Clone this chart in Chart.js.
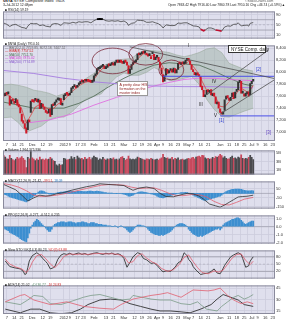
<!DOCTYPE html>
<html><head><meta charset="utf-8">
<script src="https://cdn.jsdelivr.net/npm/chart.js@4.4.0/dist/chart.umd.min.js"></script>
<style>
html,body{margin:0;padding:0;background:#fff;}
#wrap{position:relative;width:287px;height:320px;overflow:hidden;font-family:"Liberation Sans",Arial,sans-serif;}
canvas{position:absolute;left:0;}
.t{position:absolute;white-space:nowrap;line-height:1;color:#222;}
</style></head><body><div id="wrap">
<canvas id="cRsi" width="287" height="34" style="top:8px"></canvas>
<canvas id="cMain" width="287" height="105" style="top:42px"></canvas>
<canvas id="cVol" width="287" height="31" style="top:147px"></canvas>
<canvas id="cMacd" width="287" height="34" style="top:178px"></canvas>
<canvas id="cHist" width="287" height="35" style="top:212px"></canvas>
<canvas id="cSto" width="287" height="35" style="top:247px"></canvas>
<canvas id="cAdx" width="287" height="38" style="top:282px"></canvas>

<div class="t" style="left:3px;top:0px;font-size:3.8px;"><b>$NYA</b> NYSE Composite Index &nbsp;INDX</div>
<div class="t" style="left:3px;top:4px;font-size:3.4px;">3-Jul-2012 12:48pm</div>
<div class="t" style="left:245px;top:0px;font-size:3.4px;color:#555">©StockCharts.com</div>
<div class="t" style="left:168px;top:4px;font-size:3.3px;">Open 7863.42 High 7916.40 Low 7860.78 Last 7910.16 Chg +46.74 (+0.59%)▲</div>

<div class="t" style="left:5px;top:9px;font-size:3.3px;">■ RSI(14) 59.19</div>

<div class="t" style="left:5px;top:43px;font-size:3.3px;">■ $NYA (Daily) 7910.16</div>
<div class="t" style="left:5px;top:46.5px;font-size:3.3px;color:#666">— BB(20,2.0) 7759.85, 8072.18, 7447.52</div>
<div class="t" style="left:5px;top:50px;font-size:3.3px;color:#d02020">— EMA(8) 7757.52</div>
<div class="t" style="left:5px;top:53.5px;font-size:3.3px;color:#4a6a50">— MA(50) 7752.70</div>
<div class="t" style="left:5px;top:57px;font-size:3.3px;color:#d040d0">— MA(100) 7875.02</div>
<div class="t" style="left:5px;top:60.5px;font-size:3.3px;color:#8a5ad0">— MA(200) 7774.89</div>

<div class="t" style="left:228px;top:45px;width:38px;height:8px;font-size:4.6px;border:0.8px solid #333;background:#fff;box-sizing:border-box;padding:1.5px 0 0 2px;">NYSE Comp. daily</div>
<div class="t" style="left:117px;top:81px;width:31px;height:15px;font-size:3.6px;border:0.6px solid #999;background:#fff;box-sizing:border-box;padding:1.2px 0 0 1.5px;color:#8b1a1a;line-height:1.15;">A pretty clear H/S<br>formation on the<br>master index</div>
<div class="t" style="left:161px;top:71px;font-size:4.5px;">I</div>
<div class="t" style="left:188px;top:44px;font-size:4.5px;">I</div>
<div class="t" style="left:199px;top:103px;font-size:4.5px;">III</div>
<div class="t" style="left:212px;top:80px;font-size:4.5px;">IV</div>
<div class="t" style="left:214px;top:114px;font-size:4.5px;">V</div>
<div class="t" style="left:219px;top:119px;font-size:4.5px;color:#3040d0">[1]</div>
<div class="t" style="left:256px;top:68px;font-size:4.5px;color:#3040d0">[2]</div>
<div class="t" style="left:266px;top:131px;font-size:4.5px;color:#6040c0">[3]</div>

<div class="t" style="left:5px;top:149px;font-size:3.3px;">■ Volume 1,964,375,936</div>
<div class="t" style="left:5px;top:180px;font-size:3.3px;">■ MACD(12,26,9) <span style="color:#222">-21.42</span>, <span style="color:#d03030">-39.51</span>, <span style="color:#2a7ac0">18.09</span></div>
<div class="t" style="left:5px;top:214px;font-size:3.3px;">■ PPO(12,26,9) -0.277, -0.512, 0.235</div>
<div class="t" style="left:5px;top:249px;font-size:3.3px;">■ Slow STO %K(14,3) 80.23, <span style="color:#d03030">%D(3) 63.88</span></div>
<div class="t" style="left:5px;top:284px;font-size:3.3px;">■ ADX(14) 21.02 &nbsp;<span style="color:#5a8a6a">+DI 36.77</span> &nbsp;<span style="color:#d03030">-DI 24.83</span></div>
</div>
<script>
// ---------------- DATA ----------------
// x positions are trading-day indexes: 0 = 3-Nov-2011 ... 166 = 3-Jul-2012
const xTicks = [2,7,12,19,26,31,40,44,49,53,60,68,73,80,87,92,97,102,106,111,116,122,126,131,136,144,150,155,160,165,169,174,179];
const xTickLabels = ["7","14","21","Dec","12","19","2012","9","17","23","Feb","13","21","Mar","12","19","26","Apr","9","16","23","May","7","14","21","Jun","11","18","25","Jul","9","16","23"];

const closes = [7600,7650,7630,7660,7450,7540,7520,7480,7560,7450,
7420,7320,7180,7150,7060,6980,7200,7170,7520,7510,
7500,7560,7510,7550,7390,7480,7420,7380,7330,7310,
7380,7260,7460,7440,7500,7540,7540,7570,7460,7470,
7620,7640,7630,7620,7650,7740,7750,7770,7740,7780,
7810,7850,7840,7860,7850,7880,7850,7840,7830,7830,
7940,7960,8060,8060,8080,8100,8110,8060,8070,8130,
8110,8130,8160,8120,8170,8180,8170,8190,8170,8150,
8190,8170,8120,7980,8050,8130,8160,8170,8210,8310,
8290,8310,8330,8320,8330,8290,8270,8280,8230,8310,
8210,8250,8250,8180,8080,7970,7840,7940,8060,7980,
8030,8040,8000,8070,7990,8040,8150,8140,8160,8140,
8150,8200,8220,8200,8130,8050,8010,7960,7990,7950,
7930,7760,7710,7590,7620,7700,7670,7700,7620,7640,
7600,7480,7500,7400,7330,7300,7340,7540,7600,7570,
7530,7580,7650,7560,7670,7700,7830,7840,7650,7660,
7600,7650,7660,7600,7810,7850,7880];
const opens = [7640,7610,7660,7640,7600,7480,7550,7510,7490,7540,
7460,7410,7300,7190,7140,7070,7040,7190,7330,7520,
7540,7530,7550,7500,7530,7400,7470,7410,7370,7340,
7320,7390,7290,7460,7450,7500,7550,7530,7560,7450,
7540,7610,7640,7610,7620,7660,7730,7760,7770,7750,
7790,7810,7850,7830,7870,7850,7880,7860,7850,7840,
7850,7940,7970,8050,8060,8080,8100,8110,8060,8080,
8130,8110,8130,8160,8120,8170,8180,8170,8190,8170,
8150,8190,8170,8110,7980,8050,8130,8160,8170,8210,
8300,8290,8310,8330,8320,8290,8270,8280,8240,8310,
8300,8210,8260,8250,8170,8070,7960,7850,7950,8050,
7990,8030,8050,8000,8060,7990,8050,8160,8130,8170,
8140,8150,8200,8230,8190,8120,8040,8000,7950,7990,
7960,7930,7770,7700,7590,7630,7710,7660,7710,7610,
7650,7590,7470,7500,7390,7320,7300,7360,7550,7610,
7560,7530,7590,7660,7570,7680,7710,7830,7850,7650,
7640,7600,7640,7670,7620,7810,7850];
const volume = [4.3,4.0,3.6,3.5,4.4,3.7,3.4,3.2,3.5,3.9,
3.6,3.8,4.1,3.7,3.3,1.6,3.9,3.6,5.4,3.8,
3.5,3.2,3.6,3.3,4.0,3.4,3.5,3.3,3.6,3.4,
3.5,3.9,3.6,3.2,3.0,2.2,2.0,2.4,2.1,2.3,
3.7,3.6,3.3,3.4,3.5,4.1,3.6,3.9,3.4,4.2,
3.8,3.6,3.7,3.4,3.9,3.5,3.6,3.9,3.4,3.8,
4.2,3.9,3.8,3.3,3.6,3.4,3.9,3.5,3.3,3.6,
3.4,3.7,3.5,3.8,3.4,3.5,3.3,3.6,3.9,4.1,
3.7,3.3,3.5,4.2,3.6,3.4,3.5,3.4,3.6,4.0,
3.8,3.7,3.5,3.4,3.3,3.6,3.5,3.4,3.7,3.5,
3.3,3.4,3.5,3.3,3.6,3.8,4.6,3.9,3.7,3.8,
3.5,3.6,3.9,3.4,3.7,3.5,3.8,3.3,3.4,3.5,
3.3,3.4,3.6,3.7,3.5,3.8,3.9,3.6,4.0,4.1,
4.2,4.0,4.4,4.3,3.8,3.6,3.7,3.5,3.6,3.9,
3.7,4.1,3.9,4.2,4.6,4.3,3.8,4.1,3.7,3.5,
3.6,3.9,4.2,3.7,3.8,3.6,4.0,3.8,4.5,3.7,
3.5,3.7,3.6,3.9,4.4,3.9,3.4];
const macdHist = [-10,-15,-20,-30,-40,-45,-50,-55,-60,-65,
-70,-75,-80,-85,-90,-95,-85,-80,-55,-45,
-30,-15,0,15,25,30,25,20,10,5,
-5,-10,-8,-5,0,5,10,12,15,15,
18,20,22,25,25,25,22,20,20,22,
22,22,22,20,20,20,22,25,25,22,
20,22,25,22,20,18,15,10,8,5,
5,4,3,2,0,-2,0,2,0,-5,
-10,-15,-20,-30,-30,-25,-20,-10,0,10,
15,18,18,15,12,10,5,0,-5,-10,
-15,-20,-30,-40,-45,-48,-50,-45,-40,-35,
-30,-25,-20,-15,-10,-5,0,5,8,10,
10,12,10,5,0,-10,-20,-30,-35,-45,
-50,-60,-70,-75,-80,-75,-70,-65,-60,-55,
-50,-45,-40,-35,-30,-20,-5,10,20,30,
35,40,45,45,48,50,50,48,45,40,
35,33,30,28,30,32,30];
const ppoHist = [-2,-3,-4,-5,-7,-8,-9,-10,-11,-12,
-13,-15,-16,-17,-18,-19,-14,-8,-2,2,
5,7,9,8,6,4,2,0,-2,-4,
-6,-6,-3,1,3,4,5,5,6,6,
6,5,5,6,6,6,5,5,4,5,
5,5,6,6,5,5,4,4,5,5,
5,4,4,3,3,3,2,2,2,1,
1,1,0,0,1,0,-1,0,1,0,
-1,-2,-4,-6,-7,-6,-4,-2,0,2,
2,2,1,1,0,-1,-3,-5,-7,-8,
-9,-10,-10,-11,-11,-10,-11,-10,-9,-8,
-7,-6,-4,-2,0,2,3,4,4,4,
3,2,0,-3,-5,-7,-9,-10,-11,-12,
-12,-11,-12,-11,-10,-9,-8,-7,-6,-5,
-4,-3,-3,-2,-4,-2,2,4,5,6,
7,8,9,9,10,11,11,10,8,6,
4,3,4,5,6,7,7];

// sparse line series: [dayIndex, value]
const rsi = [[0,57],[2,52],[4,44],[6,50],[8,52],[10,46],[12,40],[14,38],[15,35],[16,45],[18,56],[20,54],[22,55],[24,47],[26,50],[28,45],[31,42],[32,52],[34,55],[36,54],[38,48],[40,58],[42,57],[44,56],[46,60],[48,57],[50,62],[52,60],[54,62],[56,62],[58,58],[60,66],[62,72],[64,73],[66,72],[68,66],[70,64],[72,66],[74,64],[76,66],[78,62],[80,65],[82,58],[83,48],[85,56],[87,58],[89,68],[91,67],[93,66],[95,60],[97,60],[99,62],[101,58],[103,54],[105,46],[106,38],[108,50],[110,48],[112,47],[114,48],[116,57],[118,56],[120,58],[122,58],[124,52],[126,46],[128,45],[130,42],[131,33],[133,27],[134,30],[136,38],[138,38],[140,34],[141,30],[143,28],[145,26],[147,42],[149,46],[151,45],[153,52],[155,53],[156,58],[158,46],[160,48],[162,49],[163,45],[164,56],[166,59]];
const ema8 = [[0,7620],[3,7620],[6,7560],[9,7520],[12,7380],[15,7150],[18,7280],[21,7420],[24,7460],[27,7430],[30,7380],[33,7390],[36,7470],[39,7500],[42,7590],[45,7670],[48,7730],[51,7790],[54,7830],[57,7850],[60,7880],[63,7990],[66,8070],[69,8090],[72,8130],[75,8160],[78,8170],[81,8170],[84,8090],[87,8140],[90,8250],[93,8310],[96,8290],[99,8280],[102,8250],[105,8130],[108,7990],[111,8010],[114,8030],[117,8080],[120,8130],[123,8180],[126,8100],[129,8000],[132,7850],[135,7700],[138,7670],[141,7580],[144,7430],[147,7420],[150,7510],[153,7580],[156,7690],[159,7720],[162,7670],[164,7700],[166,7780]];
const ma50 = [[0,7500],[20,7400],[40,7400],[50,7480],[60,7600],[70,7760],[80,7900],[90,8020],[100,8120],[110,8160],[120,8140],[130,8120],[140,8020],[150,7900],[160,7800],[166,7770]];
const ma100 = [[15,7150],[30,7200],[45,7300],[60,7450],[75,7580],[90,7700],[100,7770],[110,7830],[120,7880],[130,7900],[140,7900],[150,7880],[166,7860]];
const ma200 = [[0,8030],[20,7980],[40,7900],[60,7840],[80,7800],[100,7770],[120,7760],[140,7760],[166,7740]];
const bbUpper = [[0,7790],[5,7800],[10,7780],[15,7750],[20,7700],[25,7680],[30,7650],[35,7600],[40,7640],[45,7700],[50,7800],[55,7900],[60,7980],[65,8100],[70,8150],[75,8200],[80,8220],[85,8230],[90,8330],[95,8370],[100,8360],[105,8350],[110,8330],[115,8290],[120,8260],[125,8290],[130,8330],[135,8390],[140,8410],[145,8330],[150,8150],[155,8100],[160,8050],[166,8020]];
const bbLower = [[0,7240],[5,7250],[10,7150],[15,7000],[20,7050],[25,7100],[30,7200],[35,7250],[40,7250],[45,7330],[50,7450],[55,7560],[60,7600],[65,7640],[70,7800],[75,7920],[80,7990],[85,7950],[90,7950],[95,8000],[100,8080],[105,8020],[110,7860],[115,7870],[120,7900],[125,7930],[130,7800],[135,7550],[140,7380],[145,7260],[150,7250],[155,7300],[160,7350],[166,7400]];
const macdLine = [[0,100],[4,70],[8,40],[12,-20],[16,-85],[20,-50],[24,-20],[28,-30],[31,-25],[35,-5],[40,10],[45,35],[50,55],[55,75],[60,90],[64,108],[70,100],[75,95],[80,88],[83,60],[86,35],[90,60],[95,72],[100,55],[104,0],[108,-35],[113,-38],[118,-15],[122,0],[126,-5],[130,-30],[133,-65],[137,-120],[141,-140],[144,-155],[147,-130],[150,-100],[153,-70],[156,-40],[159,-35],[162,-32],[166,-20]];
const macdSignal = [[0,110],[5,95],[10,70],[15,30],[20,-20],[25,-35],[30,-30],[35,-20],[40,-5],[45,15],[50,35],[55,55],[60,75],[65,92],[70,100],[75,98],[80,92],[85,70],[90,55],[95,60],[100,62],[105,35],[110,0],[115,-25],[120,-25],[125,-12],[130,-15],[135,-40],[140,-90],[145,-125],[150,-130],[155,-100],[160,-65],[166,-45]];
const stoK = [[1,63],[2,55],[4,40],[7,35],[11,30],[13,20],[14,7],[15,10],[16,35],[17,63],[19,85],[22,97],[24,88],[26,73],[28,60],[29,53],[31,30],[33,35],[34,40],[36,70],[38,87],[40,93],[42,90],[44,95],[46,88],[48,93],[50,96],[52,90],[54,94],[56,88],[58,92],[60,95],[62,97],[64,93],[66,90],[68,95],[70,92],[72,96],[74,89],[76,93],[78,88],[80,73],[82,37],[84,57],[86,80],[89,97],[91,93],[93,73],[95,68],[98,53],[100,55],[102,45],[104,30],[106,18],[108,22],[111,20],[114,37],[116,55],[118,63],[120,97],[122,85],[123,70],[125,55],[126,40],[128,25],[131,7],[133,10],[136,13],[138,20],[140,30],[142,13],[144,10],[145,20],[147,45],[149,63],[151,80],[153,88],[156,97],[158,90],[159,73],[161,37],[163,43],[164,63],[166,80]];
const stoD = [[1,70],[4,50],[8,38],[12,30],[15,15],[17,30],[19,58],[22,85],[25,90],[28,72],[31,50],[34,35],[37,55],[40,82],[44,92],[48,90],[52,92],[56,90],[60,93],[64,94],[68,92],[72,93],[76,90],[80,82],[83,55],[86,60],[89,85],[92,93],[95,75],[99,58],[102,50],[105,32],[109,20],[113,27],[117,50],[120,78],[123,88],[126,60],[129,35],[132,15],[136,10],[140,22],[143,17],[146,25],[149,50],[152,75],[155,90],[158,92],[161,65],[164,48],[166,62]];
const adx = [[1,17.4],[11,12.6],[16,16],[18,17.4],[24,17.4],[31,12.6],[38,11.4],[45,12.6],[51,17.4],[56,23.4],[64,29.4],[71,30.6],[78,29.4],[84,24.6],[91,21],[98,17.4],[104,15],[111,15],[118,13.8],[124,12.6],[131,17.4],[138,23.4],[142,30.6],[146,36.6],[151,33],[156,29.4],[160,23.4],[166,21]];
const plusDI = [[1,27],[11,23.4],[16,29.4],[20,35.4],[26,34],[31,24.6],[38,23.4],[44,27],[53,33],[58,35.4],[64,36.6],[71,33],[78,29.4],[84,30.6],[86,35.4],[92,33],[98,30.6],[104,29.4],[111,29.4],[118,24.6],[124,23.4],[129,27],[131,23.4],[135,17.4],[142,15],[145,21],[149,27],[153,33],[156,35.4],[160,30.6],[163,33],[166,36.6]];
const minusDI = [[1,27],[11,35.4],[14,36.6],[20,29.4],[31,23.4],[42,27],[53,21],[64,18.6],[73,17.4],[78,23.4],[86,30.6],[98,35.4],[104,37],[109,39],[118,33],[126,42.6],[136,41.4],[140,42.6],[144,45],[149,35.4],[153,29.4],[158,24.6],[162,27],[166,24.6]];

// annotations in data coordinates (day index, price)
const ellipses = [{i:72.5,p:8190,di:13.7,dp:215},{i:94.5,p:8300,di:11.3,dp:180},{i:111.5,p:8040,di:8.3,dp:165}];
const trendLines = [{a:[84,8426],b:[180.5,7893],c:'#505050'},{a:[144,7300],b:[180.5,7880],c:'#505050'},{a:[135.5,7630],b:[176,8370],c:'#505050'}];
const levelLines = [{a:[106,7933],b:[180.5,7933]},{a:[144,7270],b:[180.5,7270]}];

// ---------------- RENDER ----------------
const BG = '#dfdfed', GRID = '#cbcbdc', XMIN=-0.5, XMAX=180.5;
const P = a => a.map(d=>({x:d[0],y:d[1]}));
const tickMap = {}; xTicks.forEach((v,k)=>tickMap[v]=xTickLabels[k]);
const dirUp = closes.map((c,i)=> i===0 ? c>=opens[0] : c>=closes[i-1]);

const panelPlugin = {
  id:'panel',
  beforeDraw(c){const {ctx,chartArea:a}=c;ctx.save();ctx.fillStyle=BG;ctx.fillRect(a.left,a.top,a.right-a.left,a.bottom-a.top);ctx.restore();},
  beforeDatasetsDraw(c){
    const L=(c.options.plugins.levels||{}).lines||[];const {ctx,chartArea:a}=c;
    L.forEach(l=>{const y=c.scales.y.getPixelForValue(l.v);ctx.save();ctx.strokeStyle=l.c;ctx.lineWidth=l.w||0.8;ctx.setLineDash(l.d||[]);ctx.beginPath();ctx.moveTo(a.left,y);ctx.lineTo(a.right,y);ctx.stroke();ctx.restore();});
  },
  afterDatasetsDraw(c){
    const E=(c.options.plugins.levels||{}).ellipses||[];const {ctx}=c;
    E.forEach(e=>{const x=c.scales.x.getPixelForValue(e.i),y=c.scales.y.getPixelForValue(e.p);
      const rx=c.scales.x.getPixelForValue(e.i+e.di)-x, ry=y-c.scales.y.getPixelForValue(e.p+e.dp);
      ctx.save();ctx.strokeStyle='#7a2838';ctx.lineWidth=0.8;ctx.beginPath();ctx.ellipse(x,y,rx,ry,0,0,Math.PI*2);ctx.stroke();ctx.restore();});
  },
  afterDraw(c){const {ctx,chartArea:a}=c;ctx.save();ctx.strokeStyle='#8a8a9c';ctx.lineWidth=1;ctx.strokeRect(a.left+0.5,a.top+0.5,a.right-a.left-1,a.bottom-a.top-1);ctx.restore();}
};

function make(id, datasets, y, opt){
  opt=opt||{};
  const showX = !!opt.xLabels;
  return new Chart(document.getElementById(id), {
    data:{datasets},
    plugins:[panelPlugin],
    options:{
      responsive:false, animation:false, devicePixelRatio:1, events:[],
      layout:{padding:{left:3,right:0,top:0,bottom:0}, autoPadding:false},
      plugins:{legend:{display:false}, tooltip:{enabled:false}, levels:{lines:opt.lines||[], ellipses:opt.ellipses||[]}},
      scales:{
        x:{type:'linear', min:XMIN, max:XMAX, offset:false,
          afterBuildTicks:s=>{s.ticks=xTicks.map(v=>({value:v}));},
          afterFit:s=>{s.height= showX?6:0;},
          border:{display:false},
          grid:{color:GRID, lineWidth:0.8, drawTicks:false},
          ticks:{display:showX, autoSkip:false, maxRotation:0, padding:1, font:{size:4, family:'Liberation Sans'}, color:'#333', callback:v=>tickMap[v]||''}},
        y:Object.assign({type:'linear', position:'right',
          afterFit:s=>{s.width=12;},
          border:{display:false},
          grid:{color:GRID, lineWidth:0.8, drawTicks:false},
          ticks:{padding:1, font:{size:4, family:'Liberation Sans'}, color:'#333'}}, y)
      }
    }
  });
}
const line = (data,color,w,extra)=>Object.assign({type:'line',data:P(data),borderColor:color,borderWidth:w,pointRadius:0,tension:0,fill:false},extra||{});

// RSI
make('cRsi',[ line(rsi,'#444',0.8,{segment:{borderColor:ctx=>{const v=(ctx.p0.parsed.y+ctx.p1.parsed.y)/2;return v>=70?'#000':(v<=30?'#c01030':'#444');}, borderWidth:ctx=>{const v=(ctx.p0.parsed.y+ctx.p1.parsed.y)/2;return (v>=70||v<=30)?1.6:0.8;}}}) ],
  {min:-3,max:102,afterBuildTicks:s=>{s.ticks=[10,30,50,70,90].map(v=>({value:v}));}},
  {lines:[{v:70,c:'#9a9aa8',w:0.8},{v:30,c:'#9a9aa8',w:0.8},{v:50,c:'#aaaab8',w:0.6,d:[2,2]}]});

// MAIN
const mainSets = [
  line(bbUpper,'#9aaa9c',0.6,{fill:'+1',backgroundColor:'rgba(150,172,158,0.45)',order:10}),
  line(bbLower,'#9aaa9c',0.6,{order:10}),
  line(ma200,'#a57ce0',0.9,{order:6}),
  line(ma100,'#e070e0',0.9,{order:6}),
  line(ma50,'#58705e',0.9,{order:6}),
  line(ema8,'#e03030',0.7,{order:5}),
  {type:'bar', data:closes.map((c,i)=>({x:i,y:[opens[i],c]})), backgroundColor:closes.map((c,i)=>dirUp[i]?'#333333':'#d01a2a'), barThickness:1.4, minBarLength:2, grouped:false, order:2}
];
trendLines.forEach(t=>mainSets.push(line([t.a,t.b],t.c,0.8,{order:1})));
levelLines.forEach(t=>mainSets.push(line([t.a,t.b],'#4a50e8',1,{order:1})));
make('cMain', mainSets,
  {min:6850,max:8450,afterBuildTicks:s=>{s.ticks=[7000,7200,7400,7600,7800,8000,8200,8400].map(v=>({value:v}));}},
  {xLabels:true, ellipses});

// VOLUME
make('cVol',[{type:'bar',data:volume.map((v,i)=>({x:i,y:v})),backgroundColor:volume.map((v,i)=>dirUp[i]?'#4a4a4e':'#c8485c'),barThickness:1.1,grouped:false}],
  {min:0,max:5.5,afterBuildTicks:s=>{s.ticks=[1,2,3,4,5].map(v=>({value:v}));},ticks:{padding:1,font:{size:4},color:'#333',callback:v=>v+'B'}});

// MACD
make('cMacd',[
  {type:'bar',data:macdHist.map((v,i)=>({x:i,y:v})),backgroundColor:'#3d8fd0',barThickness:1.1,grouped:false,order:3},
  line(macdSignal,'#e06070',0.8,{order:2}),
  line(macdLine,'#333',0.8,{order:1})],
  {min:-171,max:135,afterBuildTicks:s=>{s.ticks=[-150,-100,-50,0,50,100].map(v=>({value:v}));}},
  {lines:[{v:0,c:'#9090a0',w:0.6}]});

// PPO histogram
make('cHist',[{type:'bar',data:ppoHist.map((v,i)=>({x:i,y:v})),backgroundColor:'#3d8fd0',barThickness:1.1,grouped:false}],
  {min:-21,max:14,afterBuildTicks:s=>{s.ticks=[-20,-15,-10,-5,0,5,10].map(v=>({value:v}));},ticks:{padding:1,font:{size:4},color:'#333',callback:v=>(v/10).toFixed(1)}},
  {lines:[{v:0,c:'#9090a0',w:0.6}]});

// Stochastic
make('cSto',[ line(stoD,'#e06070',0.8), line(stoK,'#333',0.9) ],
  {min:-10,max:106.7,afterBuildTicks:s=>{s.ticks=[20,50,80].map(v=>({value:v}));}},
  {lines:[{v:80,c:'#9a9aa8',w:0.8},{v:20,c:'#9a9aa8',w:0.8},{v:50,c:'#aaaab8',w:0.6,d:[2,2]}]});

// ADX
make('cAdx',[ line(minusDI,'#e06070',0.8), line(plusDI,'#7a9a86',0.8), line(adx,'#333',0.9) ],
  {min:11,max:48.6,afterBuildTicks:s=>{s.ticks=[15,30,45].map(v=>({value:v}));}},
  {xLabels:true});
</script>
</body></html>
